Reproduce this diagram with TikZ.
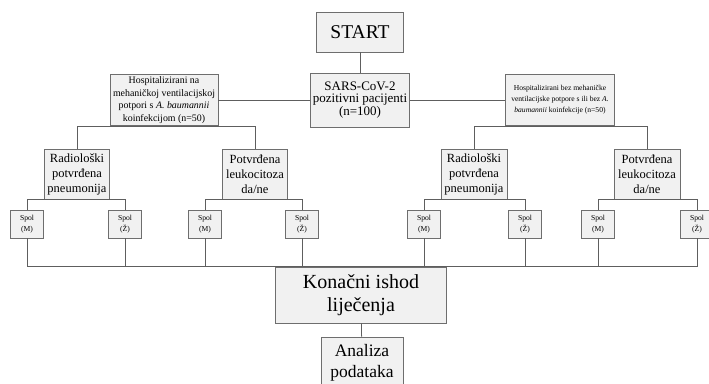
\documentclass[tikz,border=0pt]{standalone}
\usepackage{fontspec}
\setmainfont{Liberation Serif}
\usetikzlibrary{positioning}
\definecolor{BoxFill}{HTML}{F1F1F1}
\definecolor{BoxLine}{HTML}{6E6E6E}
\definecolor{WireGray}{HTML}{5E5E5E}

\begin{document}
\begin{tikzpicture}[x=1pt,y=-1pt,
    box/.style={draw=BoxLine,fill=BoxFill,line width=0.9pt,align=center,inner sep=1pt},
    spolbox/.style={box,minimum width=33pt,minimum height=28pt,font=\fontsize{7.6}{10.5}\selectfont},
    wire/.style={draw=WireGray,line width=0.8pt}]
    \useasboundingbox (0,0) rectangle (709,383);
    \node[box,minimum width=87pt,minimum height=40pt,font=\fontsize{19.5}{22}\selectfont] (start) at (360,32) {START};
    \node[box,minimum width=99pt,minimum height=54pt,font=\fontsize{13}{12.2}\selectfont] (sars) at (360,100) {SARS-CoV-2\\pozitivni pacijenti\\(n=100)};
    \node[box,minimum width=108pt,minimum height=51pt,font=\fontsize{9.9}{12.5}\selectfont] (hospL) at (164,100) {Hospitalizirani na\\mehaničkoj ventilacijskoj\\potpori s \textit{A. baumannii}\\koinfekcijom (n=50)};
    \node[box,minimum width=109pt,minimum height=51pt,font=\fontsize{7.6}{11}\selectfont] (hospR) at (560,100) {Hospitalizirani bez mehaničke\\ventilacijske potpore s ili bez \textit{A.}\\\textit{baumannii} koinfekcije (n=50)};
    \node[box,minimum width=65pt,minimum height=50pt,font=\fontsize{12.5}{15}\selectfont] (radL) at (77,174) {Radiološki\\potvrđena\\pneumonija};
    \node[box,minimum width=65pt,minimum height=50pt,font=\fontsize{12.5}{15}\selectfont] (potL) at (255,174) {Potvrđena\\leukocitoza\\da/ne};
    \node[box,minimum width=66pt,minimum height=50pt,font=\fontsize{12.5}{15}\selectfont] (radR) at (474,174) {Radiološki\\potvrđena\\pneumonija};
    \node[box,minimum width=66pt,minimum height=50pt,font=\fontsize{12.5}{15}\selectfont] (potR) at (647,174) {Potvrđena\\leukocitoza\\da/ne};
    % spol
    \node[spolbox] (radLm) at (27,224) {Spol\\(M)};
    \node[spolbox] (radLz) at (125,224) {Spol\\(Ž)};
    \node[spolbox] (potLm) at (205,224) {Spol\\(M)};
    \node[spolbox] (potLz) at (302,224) {Spol\\(Ž)};
    \node[spolbox] (radRm) at (424,224) {Spol\\(M)};
    \node[spolbox] (radRz) at (525,224) {Spol\\(Ž)};
    \node[spolbox] (potRm) at (598,224) {Spol\\(M)};
    \node[spolbox] (potRz) at (697,224) {Spol\\(Ž)};
    \node[box,minimum width=171pt,minimum height=56pt,font=\fontsize{20}{23}\selectfont] (ishod) at (361,295) {Konačni ishod\\liječenja};
    \node[box,minimum width=82pt,minimum height=52pt,font=\fontsize{17.5}{21}\selectfont] (analiza) at (362,363) {Analiza\\podataka};
    % connectors
    \draw[wire] (start) -- (sars);
    \draw[wire] (sars.west) -- (hospL.east);
    \draw[wire] (sars.east) -- (hospR.west);
    \draw[wire] (radL.north) |- (hospL.south) -| (potL.north);
    \draw[wire] (radR.north) |- (hospR.south) -| (potR.north);
    \draw[wire] (radLm.north) |- (radL.south) -| (radLz.north);
    \draw[wire] (potLm.north) |- (potL.south) -| (potLz.north);
    \draw[wire] (radRm.north) |- (radR.south) -| (radRz.north);
    \draw[wire] (potRm.north) |- (potR.south) -| (potRz.north);
    \foreach \s in {radLm,radLz,potLm,potLz,radRm,radRz,potRm,potRz}
      \draw[wire] (\s.south) -- (\s.south |- ishod.north);
    \draw[wire] (radLm.south |- ishod.north) -- (potRz.south |- ishod.north);
    \draw[wire] (ishod) -- (analiza);
\end{tikzpicture}
\end{document}
